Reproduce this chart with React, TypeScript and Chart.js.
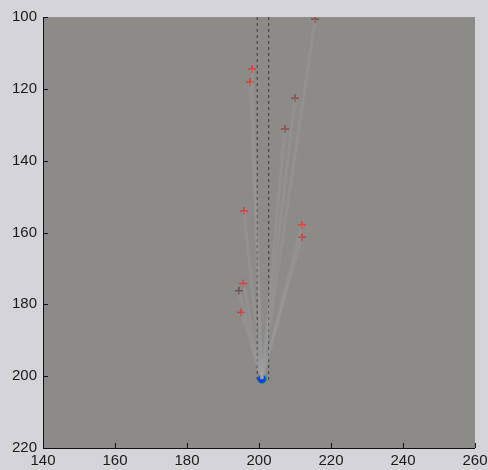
import React, { useEffect, useRef } from "react";
import { Chart, registerables } from "chart.js";

Chart.register(...registerables);

// Axis ranges / ticks
const xTicks = [140, 160, 180, 200, 220, 240, 260];
const yTicks = [100, 120, 140, 160, 180, 200, 220];

// Red "+" detections
const pointX = [215.6, 198.1, 197.5, 210.0, 207.2, 195.8, 211.9, 211.9, 195.6, 194.4, 195.0];
const pointY = [100.6, 114.5, 118.1, 122.6, 131.2, 154.0, 157.9, 161.3, 174.2, 176.2, 182.3];
const pointColors = ["#8a4a4a", "#e83a3a", "#e03a3a", "#8a4a4a", "#8a4a4a", "#e03a3a", "#f03a3a", "#c04040", "#d84040", "#6a4a4a", "#c84040"];

// Origin (blue dot)
const originX = [200.8];
const originY = [200.8];

// Dashed lane boundaries
const laneX = [199.5, 202.7];
const laneY = [100, 201];

export default function App() {
  const ref = useRef<HTMLCanvasElement | null>(null);

  useEffect(() => {
    if (!ref.current) return;
    const datasets: any[] = [];

    // faint rays from origin to each detection
    pointX.forEach((x, i) => {
      datasets.push({
        type: "scatter",
        data: [
          { x: originX[0], y: originY[0] },
          { x, y: pointY[i] },
        ],
        showLine: true,
        borderColor: "rgba(170,170,175,0.22)",
        borderWidth: 3,
        pointRadius: 0,
      });
    });

    laneX.forEach((x) => {
      datasets.push({
        type: "scatter",
        data: laneY.map((y) => ({ x, y })),
        showLine: true,
        borderColor: "#3c3c3c",
        borderWidth: 1,
        borderDash: [3, 3],
        pointRadius: 0,
      });
    });

    datasets.push({
      type: "scatter",
      data: pointX.map((x, i) => ({ x, y: pointY[i] })),
      pointStyle: "cross",
      pointRadius: 4,
      borderWidth: 1.5,
      borderColor: pointColors,
      backgroundColor: pointColors,
    });

    datasets.push({
      type: "scatter",
      data: originX.map((x, i) => ({ x, y: originY[i] })),
      pointStyle: "circle",
      pointRadius: 4.5,
      borderWidth: 1,
      borderColor: "#2f9a60",
      backgroundColor: "#1040e8",
    });

    const bgPlugin = {
      id: "bg",
      beforeDraw(chart: any) {
        const { ctx, chartArea: a } = chart;
        ctx.save();
        ctx.fillStyle = "#d4d4d9";
        ctx.fillRect(0, 0, chart.width, chart.height);
        ctx.fillStyle = "#8d8b88";
        ctx.fillRect(a.left, a.top, a.right - a.left, a.bottom - a.top);
        ctx.restore();
      },
      afterDraw(chart: any) {
        const { ctx, chartArea: a, scales } = chart;
        ctx.save();
        ctx.strokeStyle = "#111";
        ctx.lineWidth = 1;
        ctx.beginPath();
        ctx.moveTo(a.left + 0.5, a.top);
        ctx.lineTo(a.left + 0.5, a.bottom + 0.5);
        ctx.lineTo(a.right, a.bottom + 0.5);
        xTicks.forEach((t) => {
          const px = Math.round(scales.x.getPixelForValue(t)) + 0.5;
          ctx.moveTo(px, a.bottom);
          ctx.lineTo(px, a.bottom - 5);
        });
        yTicks.forEach((t) => {
          const py = Math.round(scales.y.getPixelForValue(t)) + 0.5;
          ctx.moveTo(a.left, py);
          ctx.lineTo(a.left + 5, py);
        });
        ctx.stroke();
        ctx.restore();
      },
    };

    const font = { family: "'Liberation Sans', Arial, sans-serif", size: 15 };

    const chart = new Chart(ref.current, {
      type: "scatter",
      data: { datasets },
      options: {
        animation: false,
        responsive: false,
        layout: { padding: { left: 0, top: 17, right: 13, bottom: 0 } },
        plugins: { legend: { display: false }, tooltip: { enabled: false } },
        scales: {
          x: {
            type: "linear",
            min: 140,
            max: 260,
            afterBuildTicks: (s: any) => {
              s.ticks = xTicks.map((v) => ({ value: v }));
            },
            afterFit: (s: any) => {
              s.height = 22;
              s.paddingLeft = 0;
              s.paddingRight = 0;
            },
            grid: { display: false, drawTicks: false },
            border: { display: false },
            ticks: { color: "#1a1a1a", font, padding: 4, maxRotation: 0 },
          },
          y: {
            type: "linear",
            min: 100,
            max: 220,
            reverse: true,
            afterBuildTicks: (s: any) => {
              s.ticks = yTicks.map((v) => ({ value: v }));
            },
            afterFit: (s: any) => {
              s.width = 43;
              s.paddingTop = 0;
              s.paddingBottom = 0;
            },
            grid: { display: false, drawTicks: false },
            border: { display: false },
            ticks: { color: "#1a1a1a", font, padding: 6 },
          },
        },
      },
      plugins: [bgPlugin],
    } as any);

    return () => chart.destroy();
  }, []);

  return (
    <div style={{ position: "fixed", left: 0, top: 0, width: 488, height: 470 }}>
      <canvas ref={ref} width={488} height={470} style={{ width: 488, height: 470, display: "block" }} />
    </div>
  );
}
